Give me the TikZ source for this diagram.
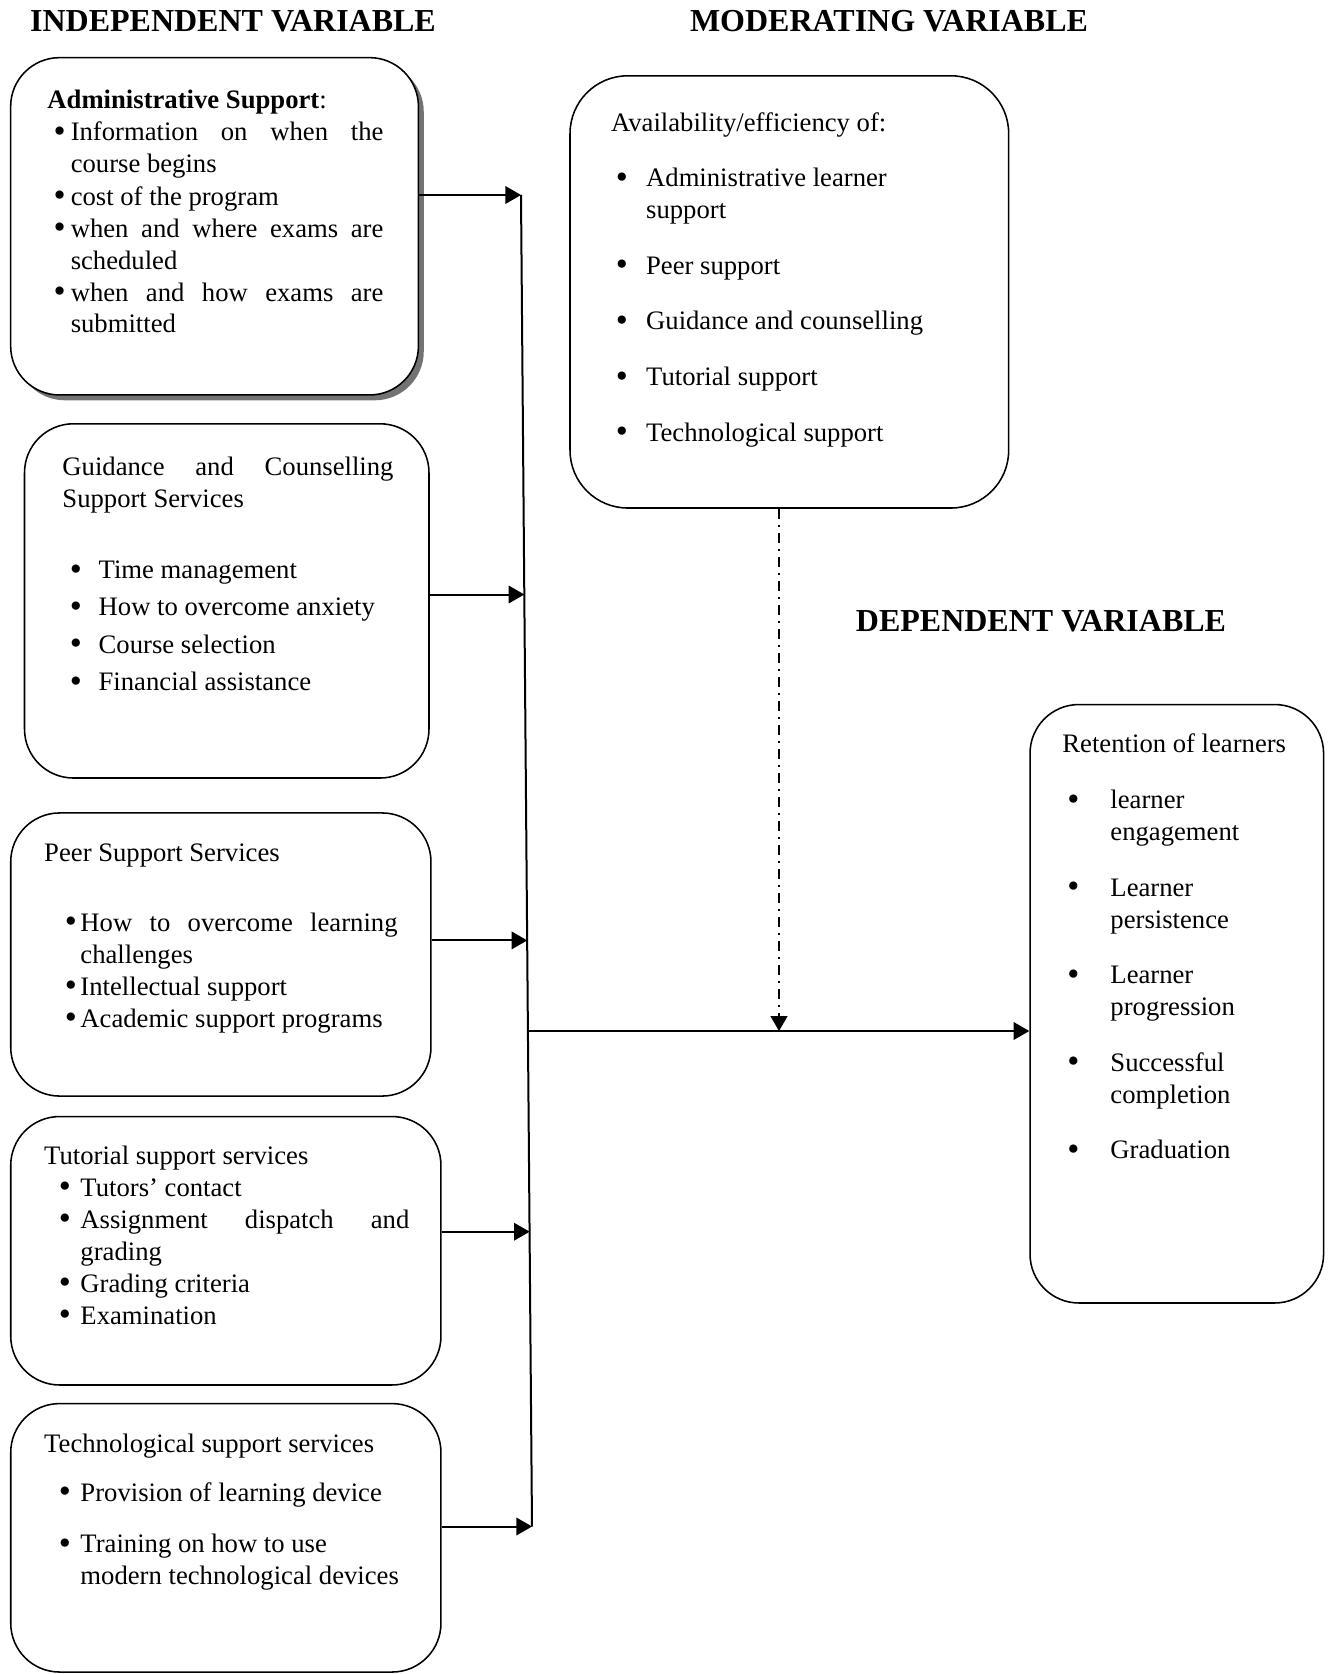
\documentclass[tikz,border=0pt]{standalone}
\usepackage{fontspec}
\setmainfont{Liberation Serif}
\usetikzlibrary{arrows,shadows}

% bullet line: [extra space before]{bullet offset}{text offset}{text}
\newcommand{\bitem}[4][0pt]{\par\vspace{#1}\noindent\hangindent=#3\hangafter=1\makebox[#3][l]{\hspace*{#2}\raisebox{-0.7pt}{\fontsize{15.5}{12}\selectfont\textbullet}}#4\par}

\begin{document}
\begin{tikzpicture}[x=0.45pt,y=-0.45pt]
\tikzset{box/.style={draw,line width=0.7pt,rounded corners=22pt,inner sep=0pt}}
\tikzset{txt/.style={anchor=base west,inner sep=0pt,align=justify,font=\fontsize{12}{14.4}\selectfont\tolerance10000}}
\tikzset{heading/.style={font=\fontsize{14.4}{17}\selectfont\bfseries,inner sep=0pt}}
\tikzset{link/.style={line width=0.9pt,-triangle 60}}

\useasboundingbox (0,0) rectangle (1330,1674);

% headings
\node[heading] (indep) at (233,21) {INDEPENDENT VARIABLE};
\node[heading] (moderating) at (889,21) {MODERATING VARIABLE};
\node[heading] (depend) at (1041,621) {DEPENDENT VARIABLE};

% boxes
\node[box,fill=white,drop shadow={shadow xshift=2.4pt,shadow yshift=-2.4pt,fill=black!55,opacity=1},
      minimum width=183.5pt,minimum height=151.8pt] (admin) at (214.55,226.3) {};
\node[box,minimum width=182pt,minimum height=159.4pt] (guide) at (226.75,600.9) {};
\node[box,minimum width=189.1pt,minimum height=127.4pt] (peer) at (220.85,954.5) {};
\node[box,minimum width=193.6pt,minimum height=120.8pt] (tutor) at (225.85,1250.75) {};
\node[box,minimum width=193.6pt,minimum height=120.8pt] (tech) at (225.85,1537.8) {};
\node[box,rounded corners=26pt,minimum width=197.4pt,minimum height=194.5pt] (moder) at (789.35,291.9) {};
\node[box,minimum width=132.1pt,minimum height=269.3pt] (retain) at (1176.8,1003.75) {};

% box texts
\node[txt,text width=151.2pt] (admintext) at (47,109) {\textbf{Administrative Support}:
\bitem{2.8pt}{10.5pt}{Information on when the\linebreak course begins}
\bitem{2.8pt}{10.5pt}{cost of the program}
\bitem{2.8pt}{10.5pt}{when and where exams are\linebreak scheduled}
\bitem{2.8pt}{10.5pt}{when and how exams are\linebreak submitted}};

\node[txt,text width=149pt] (guidetext) at (62,475) {Guidance and Counselling\linebreak Support Services
\bitem[17.8pt]{3.3pt}{16.3pt}{Time management}
\bitem[2.4pt]{3.3pt}{16.3pt}{How to overcome anxiety}
\bitem[2.4pt]{3.3pt}{16.3pt}{Course selection}
\bitem[2.4pt]{3.3pt}{16.3pt}{Financial assistance}};

\node[txt,text width=159pt] (peertext) at (43.8,861) {Peer Support Services
\bitem[17.1pt]{9.3pt}{16.3pt}{How to overcome learning\linebreak challenges}
\bitem{9.3pt}{16.3pt}{Intellectual support}
\bitem{9.3pt}{16.3pt}{Academic support programs}};

\node[txt,text width=164.3pt] (tutortext) at (43.8,1164) {Tutorial support services
\bitem{6.6pt}{16.3pt}{Tutors’ contact}
\bitem{6.6pt}{16.3pt}{Assignment dispatch and\linebreak grading}
\bitem{6.6pt}{16.3pt}{Grading criteria}
\bitem{6.6pt}{16.3pt}{Examination}};

\node[txt,text width=164.3pt] (techtext) at (43.8,1452) {Technological support services
\bitem[7.7pt]{6.6pt}{16.3pt}{Provision of learning device}
\bitem[8.8pt]{6.6pt}{16.3pt}{Training on how to use\newline modern technological devices}};

\node[txt,text width=160pt] (modertext) at (610.6,131.5) {Availability/efficiency of:
\bitem[10.5pt]{2.2pt}{15.8pt}{Administrative learner\newline support}
\bitem[10.6pt]{2.2pt}{15.8pt}{Peer support}
\bitem[10.6pt]{2.2pt}{15.8pt}{Guidance and counselling}
\bitem[10.6pt]{2.2pt}{15.8pt}{Tutorial support}
\bitem[10.6pt]{2.2pt}{15.8pt}{Technological support}};

\node[txt,text width=120pt] (retaintext) at (1062,752) {Retention of learners
\bitem[11pt]{2.2pt}{21.6pt}{learner\newline engagement}
\bitem[10.6pt]{2.2pt}{21.6pt}{Learner\newline persistence}
\bitem[10.6pt]{2.2pt}{21.6pt}{Learner\newline progression}
\bitem[10.6pt]{2.2pt}{21.6pt}{Successful\newline completion}
\bitem[10.6pt]{2.2pt}{21.6pt}{Graduation}};

% connectors
\coordinate (bustop) at (521,195);
\coordinate (tipguide) at (524.3,594.5);
\coordinate (tippeer) at (527.2,940.4);
\coordinate (tiptutor) at (529.6,1231.7);
\coordinate (busbot) at (532,1526.5);
\coordinate (junction) at (528,1031);
\coordinate (modtip) at (779,1031);

\draw[link] (admin.east |- bustop) -- (bustop);
\draw[link] (guide.east |- tipguide) -- (tipguide);
\draw[link] (peer.east |- tippeer) -- (tippeer);
\draw[link] (tutor.east |- tiptutor) -- (tiptutor);
\draw[link] (tech.east |- busbot) -- (busbot);
\draw[line width=0.9pt] (bustop) -- (busbot);
\draw[link] (junction) -- (junction -| retain.west);
\draw[line width=0.8pt,dash pattern=on 4.5pt off 2.7pt on 0.9pt off 2.7pt,-triangle 60] (moder.south -| modtip) -- (modtip);

\end{tikzpicture}
\end{document}
